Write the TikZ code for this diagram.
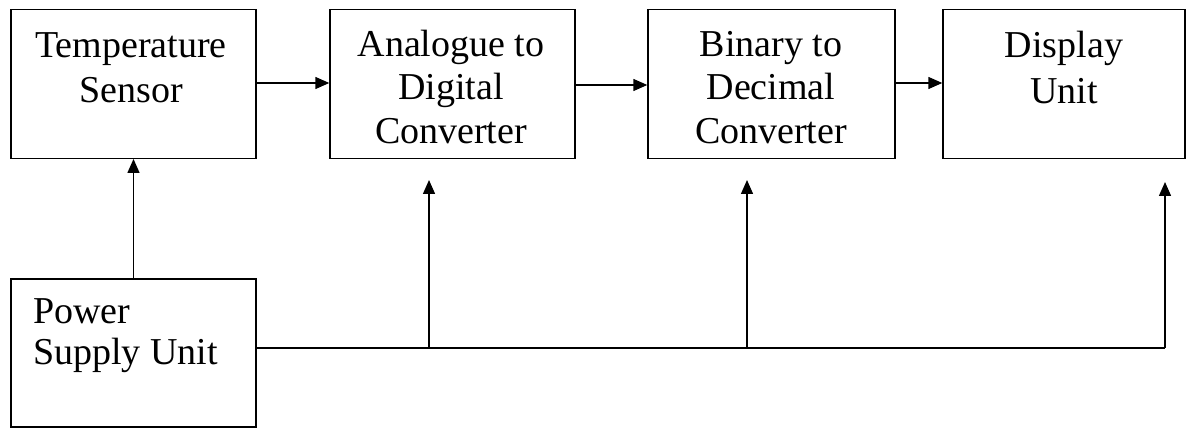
\documentclass[tikz,border=0pt]{standalone}
\usepackage{fontspec}
\setmainfont{Liberation Serif}
\usetikzlibrary{arrows.meta}
\begin{document}
\begin{tikzpicture}[x=1pt,y=-1pt,
  blk/.style={draw,line width=1.4pt,rectangle,inner sep=0pt,minimum width=#1},
  blk/.default=245pt,
  txt/.style={inner sep=0pt,anchor=north,align=center,font=\fontsize{38}{#1}\selectfont},
  txt/.default=45,
  ltxt/.style={inner sep=0pt,anchor=north west,align=left,font=\fontsize{38}{41}\selectfont},
  conn/.style={line width=1.4pt},
  arr/.style={conn,-{Triangle[length=14pt,width=12pt]}}]
  \useasboundingbox (0,0) rectangle (1194,430);
  % processing chain
  \node[blk, minimum height=148.5pt] (ts)  at (133.5,84) {};
  \node[blk, minimum height=148.5pt] (adc) at (452.5,84) {};
  \node[blk=247pt, minimum height=148.5pt] (bdc) at (771.5,84) {};
  \node[blk=242pt, minimum height=148.5pt] (du)  at (1064,84) {};
  \node[blk, minimum height=148pt] (psu) at (133.5,353) {};
  % labels
  \node[txt] (tsl)  at (131,30) {\rule{0pt}{27pt}Temperature\\Sensor};
  \node[txt=43.5] (adcl) at (451,29) {\rule{0pt}{27pt}Analogue to\\Digital\\Converter};
  \node[txt=43.5] (bdcl) at (771,29) {\rule{0pt}{27pt}Binary to\\Decimal\\Converter};
  \node[txt=46] (dul)  at (1064,30) {\rule{0pt}{27pt}Display\\Unit};
  \node[ltxt] (psul) at (33,296) {\rule{0pt}{27pt}Power\\Supply Unit};
  % signal path
  \draw[arr] (ts.east |- 0,83) -- (adc.west |- 0,83);
  \draw[arr] (adc.east |- 0,85) -- (bdc.west |- 0,85);
  \draw[arr] (bdc.east |- 0,83) -- (du.west |- 0,83);
  % power distribution
  \draw[arr] (psu.north) -- (ts.south);
  \coordinate (b1) at (429,348);
  \coordinate (b2) at (747,348);
  \coordinate (b3) at (1165,348);
  \coordinate (t1) at (429,180);
  \coordinate (t2) at (747,180);
  \coordinate (t3) at (1165,182);
  \draw[conn] (psu.east |- b1) -- (b3);
  \draw[arr] (b1) -- (t1);
  \draw[arr] (b2) -- (t2);
  \draw[arr] (b3) -- (t3);
\end{tikzpicture}
\end{document}
